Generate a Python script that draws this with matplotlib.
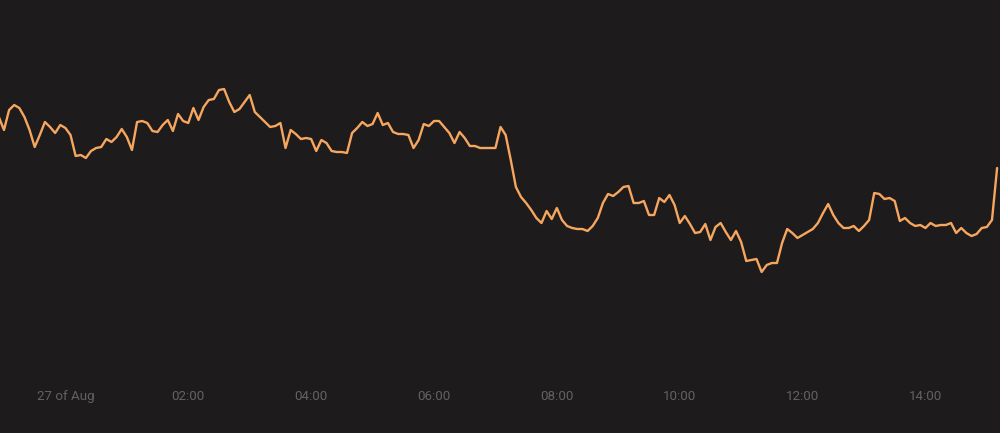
import matplotlib
matplotlib.use('Agg')
import matplotlib.pyplot as plt
import pandas as pd

# Series readings (screen level, larger = lower on chart), one every 5 minutes from 22:55 on 26 Aug
level = [
    117, 130, 110, 105, 108, 117, 130, 147, 135, 122, 127, 133, 125, 128, 135, 156, 155, 158, 151, 148,
    147, 139, 142, 137, 129, 137, 150, 122, 121, 123, 131, 132, 125, 120,
    131, 114, 121, 123, 108, 120, 107, 100, 99, 90, 89, 102, 112, 109, 102, 95, 112, 117, 122, 127,
    126, 123, 148, 130, 134, 139, 138, 139, 151, 140, 143, 151,
    152, 152, 153, 133, 128, 122, 126, 124, 113, 125, 123, 132, 134, 134, 135, 148, 140, 124, 126, 121,
    121, 127, 133, 143, 132, 138, 146, 146, 148, 148, 148, 148,
    127, 135, 160, 187, 197, 203, 210, 218, 223, 211, 219, 208, 220, 226, 228, 229, 229, 231, 226, 218,
    203, 194, 196, 192, 187, 186, 203, 203, 201, 215, 215, 198, 202,
    195, 205, 223, 216, 224, 233, 232, 224, 240, 227, 223, 232, 240, 231, 242, 261, 260, 259, 272, 265,
    263, 263, 243, 229, 233, 238, 235, 232, 229, 223, 213, 204,
    215, 223, 228, 228, 226, 231, 226, 220, 193, 194, 199, 198, 201, 221, 218, 223, 226, 225, 228, 223,
    226, 225, 225, 223, 233, 228, 233, 236, 234, 228, 227, 220, 168,
]
start_time = '2024-08-26 22:55'
tick_times = ['2024-08-27 00:00', '2024-08-27 02:00', '2024-08-27 04:00', '2024-08-27 06:00',
              '2024-08-27 08:00', '2024-08-27 10:00', '2024-08-27 12:00', '2024-08-27 14:00']
tick_labels = ['27 of Aug', '02:00', '04:00', '06:00', '08:00', '10:00', '12:00', '14:00']

bg = '#1d1b1c'
line_color = '#f6a65e'
label_color = '#636162'

plt.rcParams['font.family'] = ['Roboto', 'DejaVu Sans']

times = pd.date_range(start_time, periods=len(level), freq='5min')

fig = plt.figure(figsize=(10, 4.33), dpi=100, facecolor=bg)
ax = fig.add_axes([0, 48 / 433, 1, 385 / 433])
ax.set_facecolor(bg)
ax.plot(times, level, color=line_color, lw=1.7, solid_joinstyle='round', solid_capstyle='round')

ax.set_ylim(385, 0)
ax.set_xlim(pd.Timestamp('2024-08-26 22:56:07'), pd.Timestamp('2024-08-27 15:12:50'))
ax.set_xticks(pd.to_datetime(tick_times))
ax.set_xticklabels(tick_labels)
for s in ax.spines.values():
    s.set_visible(False)
ax.tick_params(axis='x', length=0, pad=3.8, labelsize=9.6, labelcolor=label_color)
ax.tick_params(axis='y', left=False, labelleft=False)
ax.grid(False)

fig.savefig('out.png', dpi=100, facecolor=bg)
